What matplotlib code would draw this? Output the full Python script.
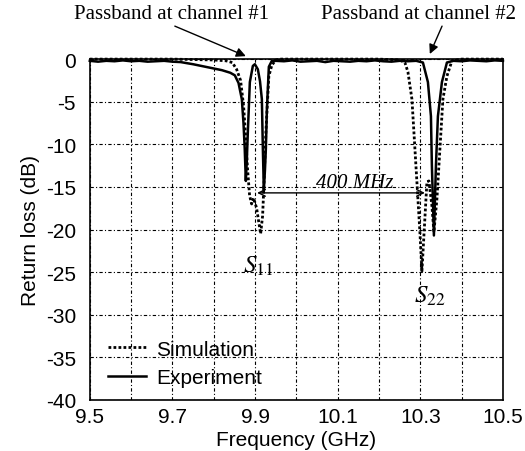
import numpy as np
import matplotlib.pyplot as plt

plt.rcParams['font.family'] = 'Liberation Sans'
plt.rcParams['mathtext.fontset'] = 'stix'
plt.rcParams['axes.unicode_minus'] = False

# measured return loss, experiment (GHz, dB)
exp_f = [9.50, 9.52, 9.54, 9.56, 9.58, 9.60, 9.62, 9.64, 9.66, 9.68, 9.70,
         9.72, 9.75, 9.78, 9.80, 9.82, 9.84, 9.851, 9.860, 9.868, 9.872,
         9.875, 9.8777, 9.880, 9.8826, 9.8874, 9.8947, 9.8995, 9.9068,
         9.9120, 9.9165, 9.9189, 9.9213, 9.9240, 9.9262, 9.9286, 9.9334,
         9.9407, 9.95, 9.97, 9.99, 10.01, 10.03, 10.05, 10.07, 10.09, 10.11,
         10.13, 10.15, 10.17, 10.19, 10.21, 10.23, 10.25, 10.27, 10.29,
         10.3063, 10.3184, 10.3257, 10.328, 10.3329, 10.3378, 10.3426,
         10.3523, 10.3644, 10.38, 10.40, 10.42, 10.44, 10.46, 10.48, 10.50]
exp_db = [-0.2, -0.3, -0.2, -0.25, -0.15, -0.25, -0.2, -0.3, -0.25, -0.2, -0.3,
          -0.35, -0.6, -0.9, -1.1, -1.3, -1.6, -1.9, -2.8, -4.7, -7.5,
          -10.5, -14.3, -12.0, -8.5, -2.7, -0.8, -0.6, -1.2,
          -2.6, -4.7, -10.5, -15.4, -13.0, -10.5, -6.0, -0.9,
          -0.2, -0.2, -0.25, -0.15, -0.3, -0.25, -0.2, -0.35, -0.2, -0.25,
          -0.3, -0.2, -0.25, -0.15, -0.25, -0.3, -0.2, -0.25, -0.2,
          -0.4, -2.7, -6.7, -12.5, -20.7, -12.5, -6.7,
          -2.7, -0.4, -0.2, -0.25, -0.15, -0.2, -0.25, -0.15, -0.2]

# simulated return loss
sim_f = [9.50, 9.60, 9.70, 9.80, 9.83, 9.845, 9.8554, 9.8650, 9.8723,
         9.8771, 9.8820, 9.8868, 9.8917, 9.8965, 9.9038, 9.9086, 9.9135,
         9.9183, 9.9213, 9.9262, 9.9334, 9.9407, 9.9504, 9.9600, 9.98,
         10.10, 10.20, 10.25, 10.2627, 10.270, 10.2797, 10.2869, 10.2942,
         10.299, 10.3039, 10.316, 10.3208, 10.328, 10.3329, 10.3402,
         10.3475, 10.3547, 10.3644, 10.3765, 10.40, 10.50]
sim_db = [0.0, 0.0, 0.0, -0.1, -0.2, -0.4, -1.2, -2.5, -5.5,
          -9.0, -13.0, -16.0, -17.0, -16.3, -17.5, -19.0, -20.5,
          -18.4, -15.0, -8.6, -2.0, -0.7, -0.1, 0.0, 0.0,
          0.0, 0.0, -0.1, -0.4, -1.5, -4.7, -10.5, -16.4,
          -20.3, -24.9, -14.4, -14.3, -17.2, -20.3, -16.4,
          -10.5, -4.7, -2.0, -0.2, 0.0, 0.0]

xtick_vals = [9.5, 9.6, 9.7, 9.8, 9.9, 10.0, 10.1, 10.2, 10.3, 10.4, 10.5]
xtick_text = ['9.5', '', '9.7', '', '9.9', '', '10.1', '', '10.3', '', '10.5']
ytick_vals = [0, -5, -10, -15, -20, -25, -30, -35, -40]

fig = plt.figure(figsize=(5.25, 4.52), dpi=100)
ax = fig.add_axes([0.171, 0.113, 0.787, 0.754])

ax.plot(sim_f, sim_db, color='black', lw=2.0, linestyle=(0, (1, 0.8)),
        label='Simulation', clip_on=False, zorder=3)
ax.plot(exp_f, exp_db, color='black', lw=1.8, label='Experiment',
        clip_on=False, zorder=4)

ax.set_xlim(9.5, 10.5)
ax.set_ylim(-40, 0)
ax.set_xticks(xtick_vals)
ax.set_xticklabels(xtick_text)
ax.set_yticks(ytick_vals)
ax.tick_params(labelsize=15, length=0)
ax.tick_params(axis='x', pad=5)
ax.tick_params(axis='y', pad=10)
ax.grid(True, color='black', lw=0.8, linestyle=(0, (3, 2, 1, 2)))
for s in ax.spines.values():
    s.set_linewidth(1.2)

ax.set_xlabel('Frequency (GHz)', fontsize=15, labelpad=3)
ax.set_ylabel('Return loss (dB)', fontsize=15, labelpad=4)

leg = ax.legend(loc='lower left', bbox_to_anchor=(0.01, -0.005), frameon=False,
                fontsize=15, handlelength=1.8, handletextpad=0.5,
                labelspacing=0.45, borderpad=0.2)

serif = 'Liberation Serif'
fig.text(0.326, 0.967, 'Passband at channel #1', family=serif, fontsize=15,
         ha='center', va='center')
fig.text(0.797, 0.967, 'Passband at channel #2', family=serif, fontsize=15,
         ha='center', va='center')
head = dict(arrowstyle='-|>', color='black', lw=1.0, mutation_scale=14,
            shrinkA=0, shrinkB=0)
ax.annotate('', xy=(9.8777, 0.35), xycoords='data',
            xytext=(0.333, 0.940), textcoords='figure fraction',
            arrowprops=head, annotation_clip=False)
ax.annotate('', xy=(10.323, 0.6), xycoords='data',
            xytext=(0.842, 0.940), textcoords='figure fraction',
            arrowprops=head, annotation_clip=False)

# channel spacing
ax.annotate('', xy=(9.905, -15.7), xytext=(10.311, -15.7),
            arrowprops=dict(arrowstyle='<->', color='black', lw=1.0,
                            mutation_scale=12, shrinkA=0, shrinkB=0))
ax.text(10.142, -14.5, '400 MHz', family=serif, style='italic', fontsize=15,
        ha='center', va='center')
ax.text(9.907, -24.2, '$S_{11}$', fontsize=18, ha='center', va='center')
ax.text(10.323, -27.7, '$S_{22}$', fontsize=18, ha='center', va='center')

fig.savefig('out.png', dpi=100)
